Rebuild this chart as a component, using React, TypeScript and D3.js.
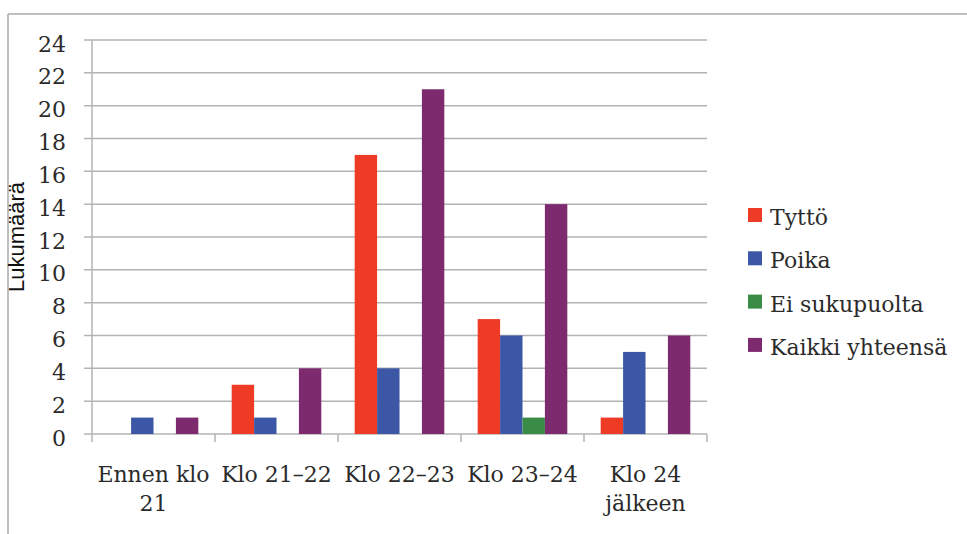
import React from "react";
import * as d3 from "d3";

const categories = ["Ennen klo 21", "Klo 21–22", "Klo 22–23", "Klo 23–24", "Klo 24 jälkeen"];
const categoryLines = [["Ennen klo", "21"], ["Klo 21–22"], ["Klo 22–23"], ["Klo 23–24"], ["Klo 24", "jälkeen"]];
const seriesNames = ["Tyttö", "Poika", "Ei sukupuolta", "Kaikki yhteensä"];
const tytto = [0, 3, 17, 7, 1];
const poika = [1, 1, 4, 6, 5];
const eiSukupuolta = [0, 0, 0, 1, 0];
const kaikki = [1, 4, 21, 14, 6];
const seriesValues = [tytto, poika, eiSukupuolta, kaikki];
const colors = ["#ee3b26", "#3b57a5", "#3a8b45", "#7e2a6f"];
const yTicks = [0, 2, 4, 6, 8, 10, 12, 14, 16, 18, 20, 22, 24];

const W = 967;
const H = 534;
const left = 92;
const right = 707;
const top = 40;
const bottom = 434;

export default function App() {
  const x = d3.scaleBand<string>().domain(categories).range([left, right]).paddingInner(0).paddingOuter(0);
  const inner = d3.scaleBand<string>().domain(seriesNames).range([0, x.bandwidth()]).paddingInner(0).paddingOuter(0.745);
  const y = d3.scaleLinear().domain([0, 24]).range([bottom, top]);
  const serif = "'DejaVu Serif', serif";
  const gridColor = "#b3b3b3";
  const textColor = "#2b2b2b";

  return (
    <svg width={W} height={H} style={{ position: "absolute", left: 0, top: 0, background: "#fff" }}>
      {/* frame */}
      <line x1={8} y1={14} x2={W} y2={14} stroke="#aaa" strokeWidth={1.5} />
      <line x1={8} y1={14} x2={8} y2={H} stroke="#aaa" strokeWidth={1.5} />

      {/* gridlines + y ticks */}
      {yTicks.map((t) => (
        <g key={t}>
          <line x1={left - 8} x2={right} y1={y(t)} y2={y(t)} stroke={gridColor} strokeWidth={1.5} />
          <text x={66} y={y(t) + 11.5} textAnchor="end" fontFamily={serif} fontSize={22} fill={textColor}>
            {t}
          </text>
        </g>
      ))}

      {/* y axis */}
      <line x1={left} x2={left} y1={top} y2={bottom} stroke={gridColor} strokeWidth={1.5} />

      {/* x axis ticks */}
      {[...categories.map((c) => x(c) as number), right].map((px, i) => (
        <line key={i} x1={px} x2={px} y1={bottom} y2={bottom + 8} stroke={gridColor} strokeWidth={1.5} />
      ))}

      {/* bars */}
      {seriesNames.map((s, si) =>
        categories.map((c, ci) => {
          const v = seriesValues[si][ci];
          if (!v) return null;
          const bx = (x(c) as number) + (inner(s) as number);
          return (
            <rect
              key={s + c}
              x={bx}
              y={y(v)}
              width={inner.bandwidth()}
              height={y(0) - y(v)}
              fill={colors[si]}
            />
          );
        })
      )}

      {/* x labels */}
      {categories.map((c, ci) => (
        <text
          key={c}
          x={(x(c) as number) + x.bandwidth() / 2}
          y={bottom + 47.7}
          textAnchor="middle"
          fontFamily={serif}
          fontSize={22}
          fill={textColor}
        >
          {categoryLines[ci].map((ln, li) => (
            <tspan key={li} x={(x(c) as number) + x.bandwidth() / 2} dy={li === 0 ? 0 : 29.5}>
              {ln}
            </tspan>
          ))}
        </text>
      ))}

      {/* y title */}
      <text
        transform="translate(24,237) rotate(-90)"
        textAnchor="middle"
        fontFamily="'Liberation Sans', Arial, sans-serif"
        fontSize={22}
        fill="#111"
      >
        Lukumäärä
      </text>

      {/* legend */}
      {seriesNames.map((s, si) => (
        <g key={s} transform={`translate(748, ${208 + si * 43.3})`}>
          <rect x={0} y={0} width={14} height={14} fill={colors[si]} />
          <text x={22} y={17} fontFamily={serif} fontSize={22} fill={textColor}>
            {s}
          </text>
        </g>
      ))}
    </svg>
  );
}
